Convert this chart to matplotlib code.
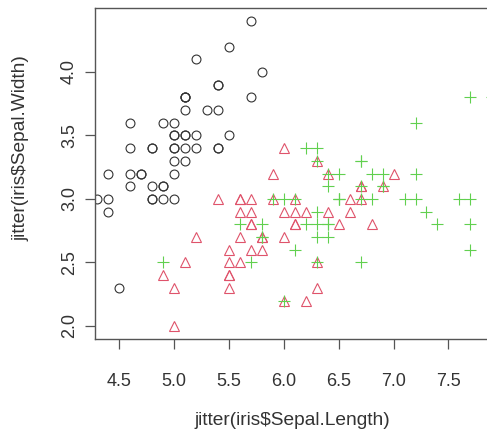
import numpy as np
from matplotlib import pyplot as plt

setosa_len = [5.1, 4.9, 4.7, 4.6, 5.0, 5.4, 4.6, 5.0, 4.4, 4.9,
              5.4, 4.8, 4.8, 4.3, 5.8, 5.7, 5.4, 5.1, 5.7, 5.1,
              5.4, 5.1, 4.6, 5.1, 4.8, 5.0, 5.0, 5.2, 5.2, 4.7,
              4.8, 5.4, 5.2, 5.5, 4.9, 5.0, 5.5, 4.9, 4.4, 5.1,
              5.0, 4.5, 4.4, 5.0, 5.1, 4.8, 5.1, 4.6, 5.3, 5.0]
setosa_wid = [3.5, 3.0, 3.2, 3.1, 3.6, 3.9, 3.4, 3.4, 2.9, 3.1,
              3.7, 3.4, 3.0, 3.0, 4.0, 4.4, 3.9, 3.5, 3.8, 3.8,
              3.4, 3.7, 3.6, 3.3, 3.4, 3.0, 3.4, 3.5, 3.4, 3.2,
              3.1, 3.4, 4.1, 4.2, 3.1, 3.2, 3.5, 3.6, 3.0, 3.4,
              3.5, 2.3, 3.2, 3.5, 3.8, 3.0, 3.8, 3.2, 3.7, 3.3]

versicolor_len = [7.0, 6.4, 6.9, 5.5, 6.5, 5.7, 6.3, 4.9, 6.6, 5.2,
                  5.0, 5.9, 6.0, 6.1, 5.6, 6.7, 5.6, 5.8, 6.2, 5.6,
                  5.9, 6.1, 6.3, 6.1, 6.4, 6.6, 6.8, 6.7, 6.0, 5.7,
                  5.5, 5.5, 5.8, 6.0, 5.4, 6.0, 6.7, 6.3, 5.6, 5.5,
                  5.5, 6.1, 5.8, 5.0, 5.6, 5.7, 5.7, 6.2, 5.1, 5.7]
versicolor_wid = [3.2, 3.2, 3.1, 2.3, 2.8, 2.8, 3.3, 2.4, 2.9, 2.7,
                  2.0, 3.0, 2.2, 2.9, 2.9, 3.1, 3.0, 2.7, 2.2, 2.5,
                  3.2, 2.8, 2.5, 2.8, 2.9, 3.0, 2.8, 3.0, 2.9, 2.6,
                  2.4, 2.4, 2.7, 2.7, 3.0, 3.4, 3.1, 2.3, 3.0, 2.5,
                  2.6, 3.0, 2.6, 2.3, 2.7, 3.0, 2.9, 2.9, 2.5, 2.8]

virginica_len = [6.3, 5.8, 7.1, 6.3, 6.5, 7.6, 4.9, 7.3, 6.7, 7.2,
                 6.5, 6.4, 6.8, 5.7, 5.8, 6.4, 6.5, 7.7, 7.7, 6.0,
                 6.9, 5.6, 7.7, 6.3, 6.7, 7.2, 6.2, 6.1, 6.4, 7.2,
                 7.4, 7.9, 6.4, 6.3, 6.1, 7.7, 6.3, 6.4, 6.0, 6.9,
                 6.7, 6.9, 5.8, 6.8, 6.7, 6.7, 6.3, 6.5, 6.2, 5.9]
virginica_wid = [3.3, 2.7, 3.0, 2.9, 3.0, 3.0, 2.5, 2.9, 2.5, 3.6,
                 3.2, 2.7, 3.0, 2.5, 2.8, 3.2, 3.0, 3.8, 2.6, 2.2,
                 3.2, 2.8, 2.8, 2.7, 3.3, 3.2, 2.8, 3.0, 2.8, 3.0,
                 2.8, 3.8, 2.8, 2.8, 2.6, 3.0, 3.4, 3.1, 3.0, 3.1,
                 3.1, 3.1, 2.7, 3.2, 3.3, 3.0, 2.5, 3.0, 3.4, 3.0]

x_ticks = [4.5, 5.0, 5.5, 6.0, 6.5, 7.0, 7.5]
y_ticks = [2.0, 2.5, 3.0, 3.5, 4.0]

plt.rcParams['font.family'] = ['Liberation Sans', 'DejaVu Sans']

W, H = 487, 433
fig = plt.figure(figsize=(W / 100, H / 100), dpi=100)
# box: left 95px, right just at the edge, top 8px, bottom 339px
ax = fig.add_axes([95 / W, (H - 339) / H, (489 - 95) / W, (339 - 8) / H])

# ---------- points, one species at a time (R draws rows in order)
ax.plot(setosa_len, setosa_wid, linestyle='none', marker='o', ms=6.4,
        mfc='none', mec='#333333', mew=0.8)
ax.plot(versicolor_len, versicolor_wid, linestyle='none', marker='^', ms=7.5,
        mfc='none', mec='#DF536B', mew=0.8)
ax.plot(virginica_len, virginica_wid, linestyle='none', marker='+', ms=9,
        mec='#61D04F', mew=0.8)

ax.set_xlim(4.278, 7.870)
ax.set_ylim(1.897, 4.504)
ax.set_xticks(x_ticks)
ax.set_xticklabels(['{:.1f}'.format(v) for v in x_ticks])
ax.set_yticks(y_ticks)
ax.set_yticklabels(['{:.1f}'.format(v) for v in y_ticks], rotation=90,
                   va='center')

for s in ax.spines.values():
    s.set_color('#555555')
    s.set_linewidth(1.0)
ax.tick_params(direction='out', length=7.2, width=0.9, color='#555555',
               labelsize=13, labelcolor='#333333')
ax.tick_params(axis='x', pad=17)
ax.tick_params(axis='y', pad=5)

ax.set_xlabel('jitter(iris$Sepal.Length)', fontsize=13.8, color='#333333',
              labelpad=16)
ax.set_ylabel('jitter(iris$Sepal.Width)', fontsize=13.8, color='#333333')
ax.yaxis.set_label_coords(-0.165, 0.577)

fig.savefig('out.png', dpi=100)
